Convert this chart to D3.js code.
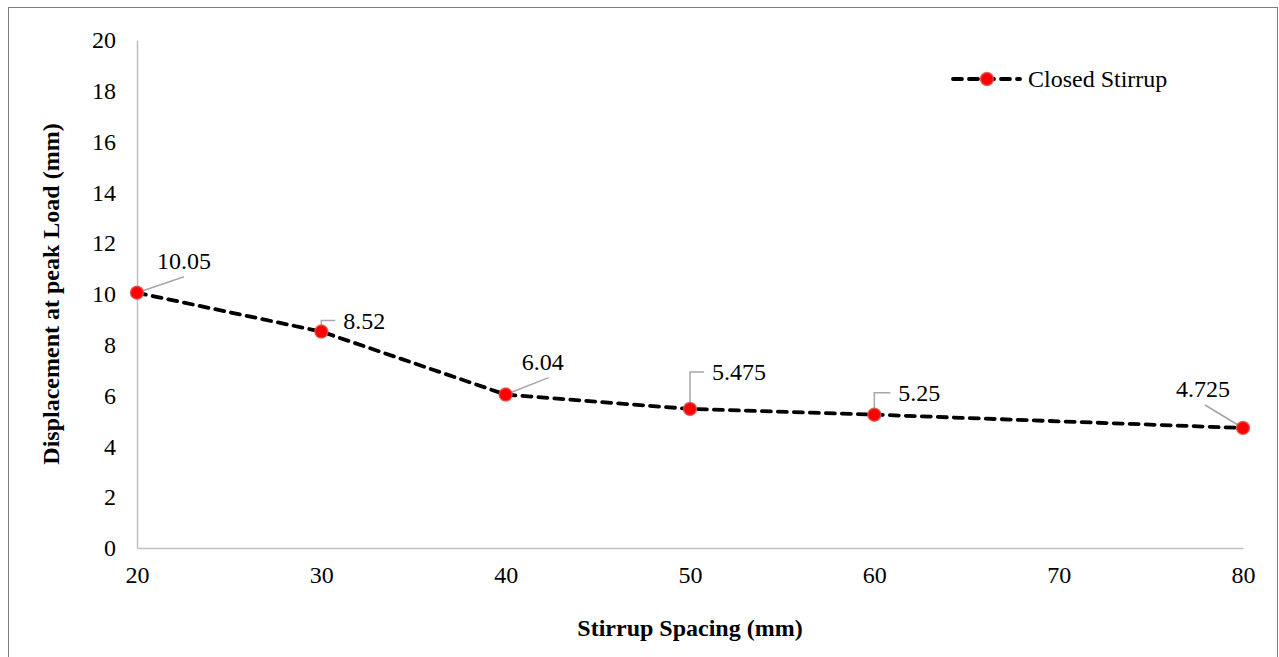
<!DOCTYPE html>
<html>
<head>
<meta charset="utf-8">
<script src="https://cdn.jsdelivr.net/npm/d3@7"></script>
<style>
  html, body { margin: 0; padding: 0; background: #fff; }
  svg { display: block; }
  text { font-family: "Liberation Serif", "Times New Roman", serif; fill: #000; }
</style>
</head>
<body>
<svg id="chart" width="1279" height="657"></svg>
<script>
// Stirrup spacing (mm) and displacement at peak load (mm)
const spacing = [20, 30, 40, 50, 60, 80];
const displacement = [10.05, 8.52, 6.04, 5.475, 5.25, 4.725];
const valueLabels = ["10.05", "8.52", "6.04", "5.475", "5.25", "4.725"];
const xTicks = [20, 30, 40, 50, 60, 70, 80];
const yTicks = [0, 2, 4, 6, 8, 10, 12, 14, 16, 18, 20];
const seriesName = "Closed Stirrup";

// Label offsets (dx, dy from the point) and leader style for each data label
const labelPlacement = [
  { dx: 20, dy: -32, leader: "diag" },
  { dx: 22, dy: -11, leader: "elbow" },
  { dx: 16, dy: -33, leader: "diag" },
  { dx: 22, dy: -37, leader: "elbow" },
  { dx: 24, dy: -22, leader: "elbow" },
  { dx: -67, dy: -39, leader: "diagL" }
];

const FONT = "'Liberation Serif', 'Times New Roman', serif";
const svg = d3.select("#chart");
const margin = { left: 137, right: 36, top: 40, bottom: 109 };
const W = 1279, H = 657;

// outer frame
svg.append("rect")
  .attr("x", 8.5).attr("y", 7.5)
  .attr("width", 1269).attr("height", 670)
  .attr("fill", "none").attr("stroke", "#7f7f7f").attr("stroke-width", 1);

const x = d3.scaleLinear().domain([20, 80]).range([margin.left, W - margin.right]);
const y = d3.scaleLinear().domain([0, 20]).range([H - margin.bottom, margin.top]);

// axes
const xAxis = d3.axisBottom(x).tickValues(xTicks).tickSize(0).tickPadding(18).tickFormat(d3.format("d"));
const yAxis = d3.axisLeft(y).tickValues(yTicks).tickSize(0).tickPadding(21).tickFormat(d3.format("d"));

const gx = svg.append("g").attr("transform", `translate(0,${y(0)})`).call(xAxis);
const gy = svg.append("g").attr("transform", `translate(${x(20)},0)`).call(yAxis);
[gx, gy].forEach(g => {
  g.attr("font-family", FONT).attr("font-size", 24);
  g.select(".domain").attr("stroke", "#bfbfbf").attr("stroke-width", 1.5);
  g.selectAll("text").style("font-size", "24px").style("font-family", FONT).attr("fill", "#000");
});
gx.selectAll("text").attr("dy", "0.71em");

// axis titles
svg.append("text")
  .attr("x", (x(20) + x(80)) / 2).attr("y", 636)
  .attr("text-anchor", "middle").style("font-size", "24px").attr("font-weight", "bold")
  .text("Stirrup Spacing (mm)");

svg.append("text")
  .attr("transform", `translate(59,${(y(0) + y(20)) / 2}) rotate(-90)`)
  .attr("text-anchor", "middle").style("font-size", "24px").attr("font-weight", "bold")
  .text("Displacement at peak Load (mm)");

const data = spacing.map((s, i) => ({ s, v: displacement[i], label: valueLabels[i], p: labelPlacement[i] }));

// dashed series line
const line = d3.line().x(d => x(d.s)).y(d => y(d.v));
svg.append("path")
  .datum(data)
  .attr("d", line)
  .attr("fill", "none").attr("stroke", "#000").attr("stroke-width", 3.8)
  .attr("stroke-dasharray", "9,7").attr("stroke-linecap", "round");

// leader lines
svg.append("g").selectAll("path")
  .data(data)
  .join("path")
  .attr("fill", "none").attr("stroke", "#a6a6a6").attr("stroke-width", 1.5)
  .attr("d", d => {
    const px = x(d.s), py = y(d.v);
    const lx = px + d.p.dx, ly = py + d.p.dy;
    if (d.p.leader === "elbow") {
      return `M${px},${py - 3}L${px},${ly}L${lx - 8},${ly}`;
    } else if (d.p.leader === "diag") {
      return `M${px},${py}L${lx + 27},${ly + 16}`;
    } else {
      return `M${px},${py}L${lx + 29},${ly + 16}`;
    }
  });

// markers
svg.append("g").selectAll("circle")
  .data(data)
  .join("circle")
  .attr("cx", d => x(d.s)).attr("cy", d => y(d.v)).attr("r", 6.5)
  .attr("fill", "#ff0000").attr("stroke", "#d9534f").attr("stroke-opacity", 0.8).attr("stroke-width", 1.5);

// data labels
svg.append("g").selectAll("text")
  .data(data)
  .join("text")
  .attr("x", d => x(d.s) + d.p.dx).attr("y", d => y(d.v) + d.p.dy)
  .attr("dy", "0.35em").style("font-size", "24px")
  .text(d => d.label);

// legend
const lg = svg.append("g").attr("transform", "translate(953,79)");
lg.append("line")
  .attr("x1", 0).attr("x2", 67).attr("y1", 0).attr("y2", 0)
  .attr("stroke", "#000").attr("stroke-width", 3.8)
  .attr("stroke-dasharray", "9,7").attr("stroke-linecap", "round");
lg.append("circle")
  .attr("cx", 34).attr("cy", 0).attr("r", 6.5)
  .attr("fill", "#ff0000").attr("stroke", "#d9534f").attr("stroke-opacity", 0.8).attr("stroke-width", 1.5);
lg.append("text")
  .attr("x", 75).attr("y", 0).attr("dy", "0.35em").style("font-size", "24px")
  .text(seriesName);
</script>
</body>
</html>
